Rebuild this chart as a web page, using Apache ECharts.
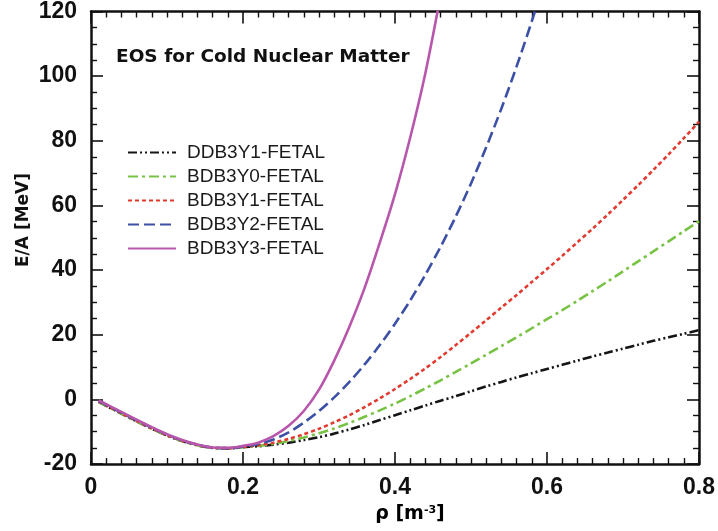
<!DOCTYPE html>
<html><head><meta charset="utf-8">
<script src="https://cdn.jsdelivr.net/npm/echarts@6/dist/echarts.min.js"></script>
<style>html,body{margin:0;padding:0;background:#fff}#c{width:718px;height:531px}</style>
</head><body><div id="c"></div>
<script>
const rho = [0.01,0.02,0.04,0.06,0.08,0.10,0.12,0.14,0.16,0.18,0.20,0.22,0.24,0.26,0.28,0.30,0.32,0.34,0.36,0.38,0.40,0.42,0.44,0.46,0.48,0.50,0.52,0.54,0.56,0.58,0.60,0.62,0.64,0.66,0.68,0.70,0.72,0.74,0.76,0.78,0.80];
const seriesNames = ['DDB3Y1-FETAL','BDB3Y0-FETAL','BDB3Y1-FETAL','BDB3Y2-FETAL','BDB3Y3-FETAL'];
const eDDB3Y1 = [-0.8,-2.0,-4.4,-6.8,-9.1,-11.2,-12.9,-14.2,-15.0,-15.2,-14.8,-14.5,-14.0,-13.4,-12.6,-11.7,-10.6,-9.3,-7.9,-6.4,-4.9,-3.4,-1.9,-0.4,1.0,2.5,4.0,5.4,6.8,8.1,9.4,10.7,12.0,13.3,14.5,15.7,16.9,18.1,19.2,20.3,21.4];
const eBDB3Y0 = [-0.8,-2.0,-4.4,-6.8,-9.1,-11.2,-12.9,-14.2,-15.0,-15.2,-14.8,-14.4,-13.8,-12.9,-11.8,-10.5,-9.0,-7.3,-5.4,-3.4,-1.3,1.0,3.4,5.9,8.5,11.1,13.8,16.5,19.2,22.0,24.8,27.6,30.5,33.5,36.5,39.6,42.7,45.8,48.9,52.0,55.1];
const eBDB3Y1 = [-0.7,-1.9,-4.3,-6.7,-9.0,-11.1,-12.8,-14.1,-14.9,-15.1,-14.7,-14.2,-13.4,-12.2,-10.8,-9.1,-7.1,-4.9,-2.4,0.3,3.2,6.3,9.6,13.1,16.8,20.6,24.5,28.4,32.3,36.3,40.3,44.4,48.6,52.8,57.2,61.7,66.3,71.0,75.8,80.8,85.9];
const eBDB3Y2 = [-0.5,-1.7,-4.1,-6.5,-8.8,-10.9,-12.7,-14.0,-14.9,-15.1,-14.6,-13.8,-12.4,-10.2,-7.2,-3.6,0.6,5.4,10.8,16.8,23.4,30.6,38.6,47.2,56.6,66.8,78.0,90.0,103.0,117.0,132.0,null,null,null,null,null,null,null,null,null,null];
const eBDB3Y3 = [-0.3,-1.5,-3.9,-6.3,-8.6,-10.8,-12.6,-14.0,-14.9,-15.0,-14.4,-13.4,-11.4,-8.2,-3.6,3.0,12.0,22.5,34.5,48.5,63.5,81.0,101.0,125.0,null,null,null,null,null,null,null,null,null,null,null,null,null,null,null,null,null];
const allE = [eDDB3Y1,eBDB3Y0,eBDB3Y1,eBDB3Y2,eBDB3Y3];
const colors = ['#151515','#78c244','#e23a2e','#3c50a6','#b856ac'];
const dashes = [[9,3,2,3,2,3],[10,4,3,4],[4,3],[11,5],'solid'];
const yTicks = [-20,0,20,40,60,80,100,120];
const xTicks = [0,0.2,0.4,0.6,0.8];

const chart = echarts.init(document.getElementById('c'), null, {renderer:'canvas'});
const aLine = {show:true,onZero:false,lineStyle:{color:'#111',width:2.5}};
const aTick = {show:true,inside:true,length:12,lineStyle:{color:'#111',width:1.6}};
const xMinor = {show:true,splitNumber:10,length:6,lineStyle:{color:'#111',width:1.4}};
const yMinor = {show:true,splitNumber:4,length:6,lineStyle:{color:'#111',width:1.4}};
const series = seriesNames.map((n,i)=>({
  name:n, type:'line', xAxisIndex:0, yAxisIndex:0,
  data: rho.map((r,j)=>[r, allE[i][j]]),
  showSymbol:false, symbol:'none', smooth:0.3, clip:true,
  lineStyle:{color:colors[i], width:2.6, type:dashes[i]},
  itemStyle:{color:colors[i]},
  z: 2+i
}));
chart.setOption({
  animation:false,
  backgroundColor:'#fff',
  title:{text:'EOS for Cold Nuclear Matter', left:111, top:43,
    textStyle:{fontFamily:'DejaVu Sans', fontWeight:'bold', fontSize:18.5, color:'#111'}},
  legend:{data:seriesNames, orient:'vertical', left:122, top:138, itemWidth:48, itemHeight:10, itemGap:5,
    itemStyle:{color:'rgba(0,0,0,0)', borderColor:'rgba(0,0,0,0)', borderWidth:0, opacity:0},
    textStyle:{fontFamily:'Liberation Sans', fontSize:19, color:'#1a1a1a', padding:[0,0,0,6]}},
  grid:{left:91, top:11, width:616, height:453},
  xAxis:[
    {type:'value', position:'bottom', min:0, max:0.8, interval:0.2,
      axisLine:aLine, axisTick:aTick, minorTick:xMinor, splitLine:{show:false},
      axisLabel:{margin:12, fontFamily:'Liberation Sans', fontWeight:'bold', fontSize:23, color:'#111',
        formatter:v=>{const t=xTicks.find(x=>Math.abs(x-v)<1e-6); return t===0?'0':t.toFixed(1);}}},
    {type:'value', position:'top', min:0, max:0.8, interval:0.2, axisLabel:{show:false},
      axisLine:aLine, axisTick:aTick, minorTick:xMinor, splitLine:{show:false}}
  ],
  yAxis:[
    {type:'value', position:'left', min:-20, max:120, interval:20,
      axisLine:aLine, axisTick:aTick, minorTick:yMinor, splitLine:{show:false},
      axisLabel:{margin:14, fontFamily:'Liberation Sans', fontWeight:'bold', fontSize:23, color:'#111',
        formatter:v=>String(yTicks.find(y=>Math.abs(y-v)<1e-6))}},
    {type:'value', position:'right', min:-20, max:120, interval:20, axisLabel:{show:false},
      axisLine:aLine, axisTick:aTick, minorTick:yMinor, splitLine:{show:false}}
  ],
  graphic:[
    {type:'text', x:24, y:220, rotation:Math.PI/2, style:{text:'E/A [MeV]', fontFamily:'DejaVu Sans', fontWeight:'bold', fontSize:17, fill:'#111', align:'center', verticalAlign:'middle'}},
    {type:'text', x:410, y:514, style:{text:'{a|ρ [m}{s|-3}{a|]}', align:'center', verticalAlign:'middle',
      rich:{a:{fontFamily:'DejaVu Sans', fontWeight:'bold', fontSize:19, color:'#111'},
            s:{fontFamily:'DejaVu Sans', fontWeight:'bold', fontSize:11, color:'#111', verticalAlign:'top', padding:[0,0,8,0]}}}}
  ],
  series: series
});
</script></body></html>
